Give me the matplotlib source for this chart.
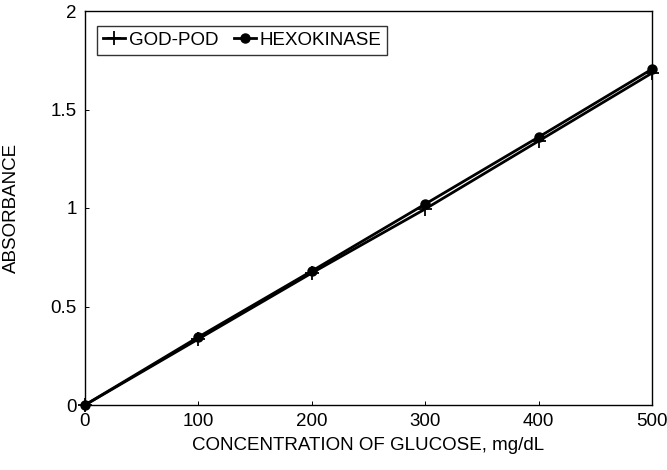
import matplotlib
matplotlib.use("Agg")
import matplotlib.pyplot as plt

plt.rcParams['font.family'] = ['Liberation Sans Narrow', 'Liberation Sans', 'DejaVu Sans']

# data
glucose = [0, 100, 200, 300, 400, 500]
god_pod = [0, 0.335, 0.67, 0.995, 1.34, 1.685]
hexokinase = [0, 0.345, 0.68, 1.02, 1.36, 1.705]

fig = plt.figure(figsize=(6.67, 4.70), dpi=100)
ax = fig.add_axes([85 / 667, 1 - 405 / 470, (652 - 85) / 667, (405 - 11) / 470])

ax.plot(glucose, god_pod, color='black', lw=2.0, marker='+', ms=10, mew=1.3,
        label='GOD-POD', clip_on=False)
ax.plot(glucose, hexokinase, color='black', lw=2.0, marker='o', ms=6.5,
        label='HEXOKINASE', clip_on=False)

ax.set_xlim(0, 500)
ax.set_ylim(0, 2)
ax.set_xticks([0, 100, 200, 300, 400, 500])
ax.set_yticks([0, 0.5, 1, 1.5, 2])
ax.set_yticklabels(['0', '0.5', '1', '1.5', '2'])
ax.tick_params(direction='in', length=3, width=0.7, labelsize=13.5, pad=6)
for s in ax.spines.values():
    s.set_linewidth(1.0)

ax.set_xlabel('CONCENTRATION OF GLUCOSE, mg/dL', fontsize=13.5, labelpad=5)
ax.set_ylabel('ABSORBANCE', fontsize=13.5, labelpad=22)

leg = ax.legend(loc='upper left', ncol=2, fontsize=13.5, frameon=True, fancybox=False,
                edgecolor='black', handlelength=1.2, handletextpad=0.2,
                columnspacing=0.8, borderpad=0.3, bbox_to_anchor=(0.005, 0.985))
leg.get_frame().set_linewidth(1.0)

fig.savefig('out.png', dpi=100)
